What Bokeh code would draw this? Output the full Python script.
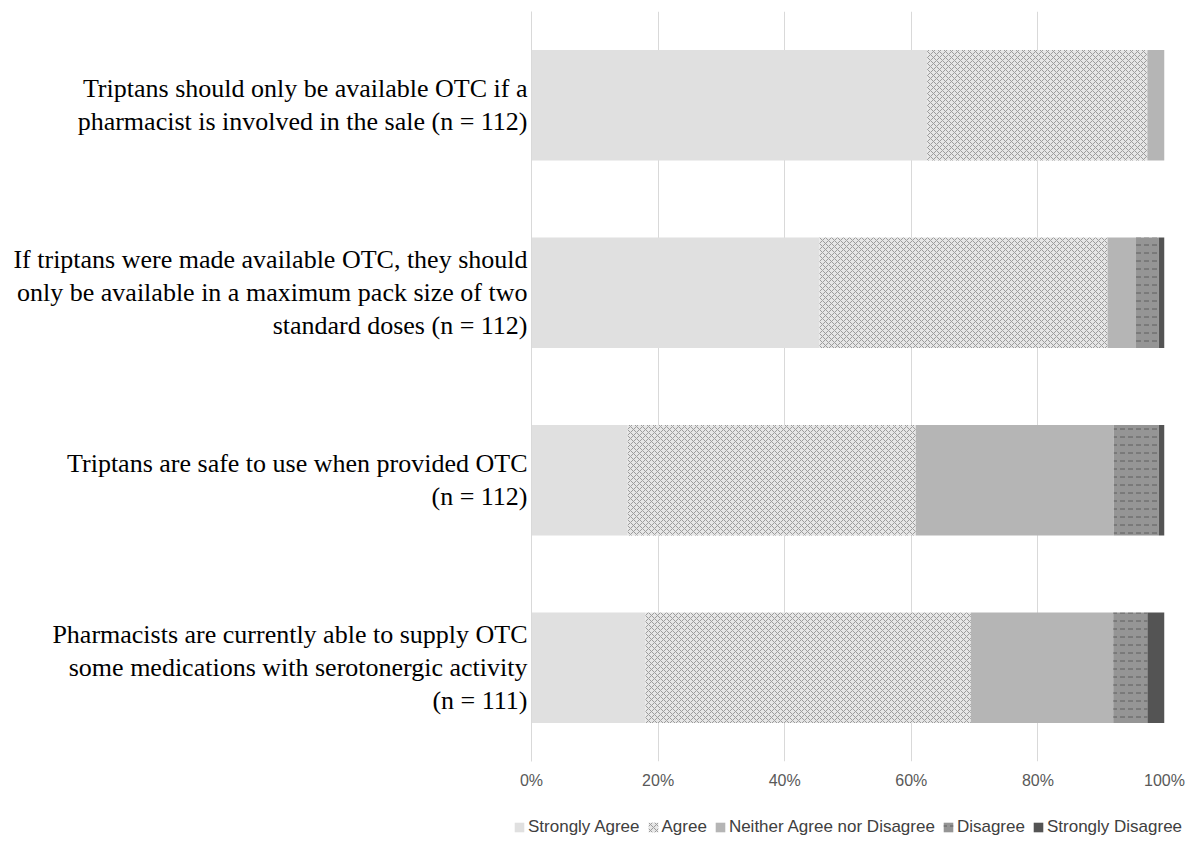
from bokeh.plotting import figure
from bokeh.models import Range1d, FactorRange, FixedTicker, PrintfTickFormatter, Legend, LegendItem
from bokeh.layouts import column
from bokeh.embed import file_html
from bokeh.resources import INLINE

statements = [
    "Triptans should only be available OTC if a\npharmacist is involved in the sale (n = 112)",
    "If triptans were made available OTC, they should\nonly be available in a maximum pack size of two\nstandard doses (n = 112)",
    "Triptans are safe to use when provided OTC\n(n = 112)",
    "Pharmacists are currently able to supply OTC\nsome medications with serotonergic activity\n(n = 111)",
]
series_names = ["Strongly Agree", "Agree", "Neither Agree nor Disagree", "Disagree", "Strongly Disagree"]
strongly_agree = [62.5, 45.5, 15.2, 18.0]
agree = [34.8, 45.5, 45.5, 51.4]
neither = [2.7, 4.5, 31.3, 22.5]
disagree = [0.0, 3.6, 7.1, 5.4]
strongly_disagree = [0.0, 0.9, 0.9, 2.7]
x_ticks = [0, 20, 40, 60, 80, 100]

series = [strongly_agree, agree, neither, disagree, strongly_disagree]
fills = ["#e0e0e0", "#e6e6e6", "#b5b5b5", "#959595", "#545454"]
hatches = [None, "diagonal_cross", None, "horizontal_dash", None]
hatch_colors = [None, "#9c9c9c", None, "#5e5e5e", None]


def style_kw(hp, hc):
    if not hp:
        return {}
    return dict(hatch_pattern=hp, hatch_color=hc, hatch_scale=6 if hp == "diagonal_cross" else 8, hatch_weight=1)


p = figure(frame_width=633, frame_height=750, output_backend="svg", toolbar_location=None,
           x_range=Range1d(0, 100), y_range=FactorRange(factors=list(reversed(statements)), range_padding=0),
           min_border_left=531, min_border_right=30, min_border_top=11, min_border_bottom=45)
p.outline_line_color = None
p.background_fill_color = "white"
p.border_fill_color = "white"

left = [0.0] * len(statements)
for name, vals, fc, hp, hc in zip(series_names, series, fills, hatches, hatch_colors):
    right = [l + v for l, v in zip(left, vals)]
    p.hbar(y=statements, left=left, right=right, height=0.59, fill_color=fc, line_color=None, **style_kw(hp, hc))
    left = right

p.xaxis.ticker = FixedTicker(ticks=x_ticks)
p.xaxis.formatter = PrintfTickFormatter(format="%d%%")
p.xaxis.axis_line_color = None
p.xaxis.major_tick_line_color = None
p.xaxis.major_tick_out = 0
p.xaxis.minor_tick_line_color = None
p.xaxis.major_label_text_font = "Liberation Sans"
p.xaxis.major_label_text_font_size = "16px"
p.xaxis.major_label_text_color = "#595959"
p.xaxis.major_label_standoff = 10

p.yaxis.axis_line_color = "#d9d9d9"
p.yaxis.major_tick_line_color = None
p.yaxis.major_tick_out = 0
p.yaxis.minor_tick_line_color = None
p.yaxis.major_label_text_font = "Liberation Serif"
p.yaxis.major_label_text_font_size = "26px"
p.yaxis.major_label_text_line_height = 1.13
p.yaxis.major_label_text_color = "black"
p.yaxis.major_label_standoff = 4

p.xgrid.grid_line_color = "#d9d9d9"
p.ygrid.grid_line_color = None

# legend strip below the chart
p2 = figure(width=1194, height=36, output_backend="svg", toolbar_location=None,
            x_range=Range1d(0, 1), y_range=Range1d(0, 1), x_axis_type=None, y_axis_type=None,
            min_border=0, min_border_left=0, min_border_right=0, min_border_top=0, min_border_bottom=0)
try:
    p2.frame_align = False
except Exception:
    pass
p2.outline_line_color = None
p2.grid.grid_line_color = None
items = []
for name, fc, hp, hc in zip(series_names, fills, hatches, hatch_colors):
    # zero-width legend proxy kept outside the visible range
    r = p2.hbar(y=[-1.0], left=[0.0], right=[0.0], height=0.5, fill_color=fc, line_color=None, **style_kw(hp, hc))
    items.append(LegendItem(label=name, renderers=[r]))

legend = Legend(items=items, orientation="horizontal", location=(513, 5),
                label_text_font="Liberation Sans", label_text_font_size="17px",
                label_text_color="#404040", glyph_width=12, glyph_height=12,
                label_standoff=3, spacing=7, padding=2, margin=0, border_line_color=None,
                background_fill_alpha=0)
p2.add_layout(legend)

layout = column(p, p2, spacing=0)
open("out.html", "w").write(file_html(layout, INLINE))
